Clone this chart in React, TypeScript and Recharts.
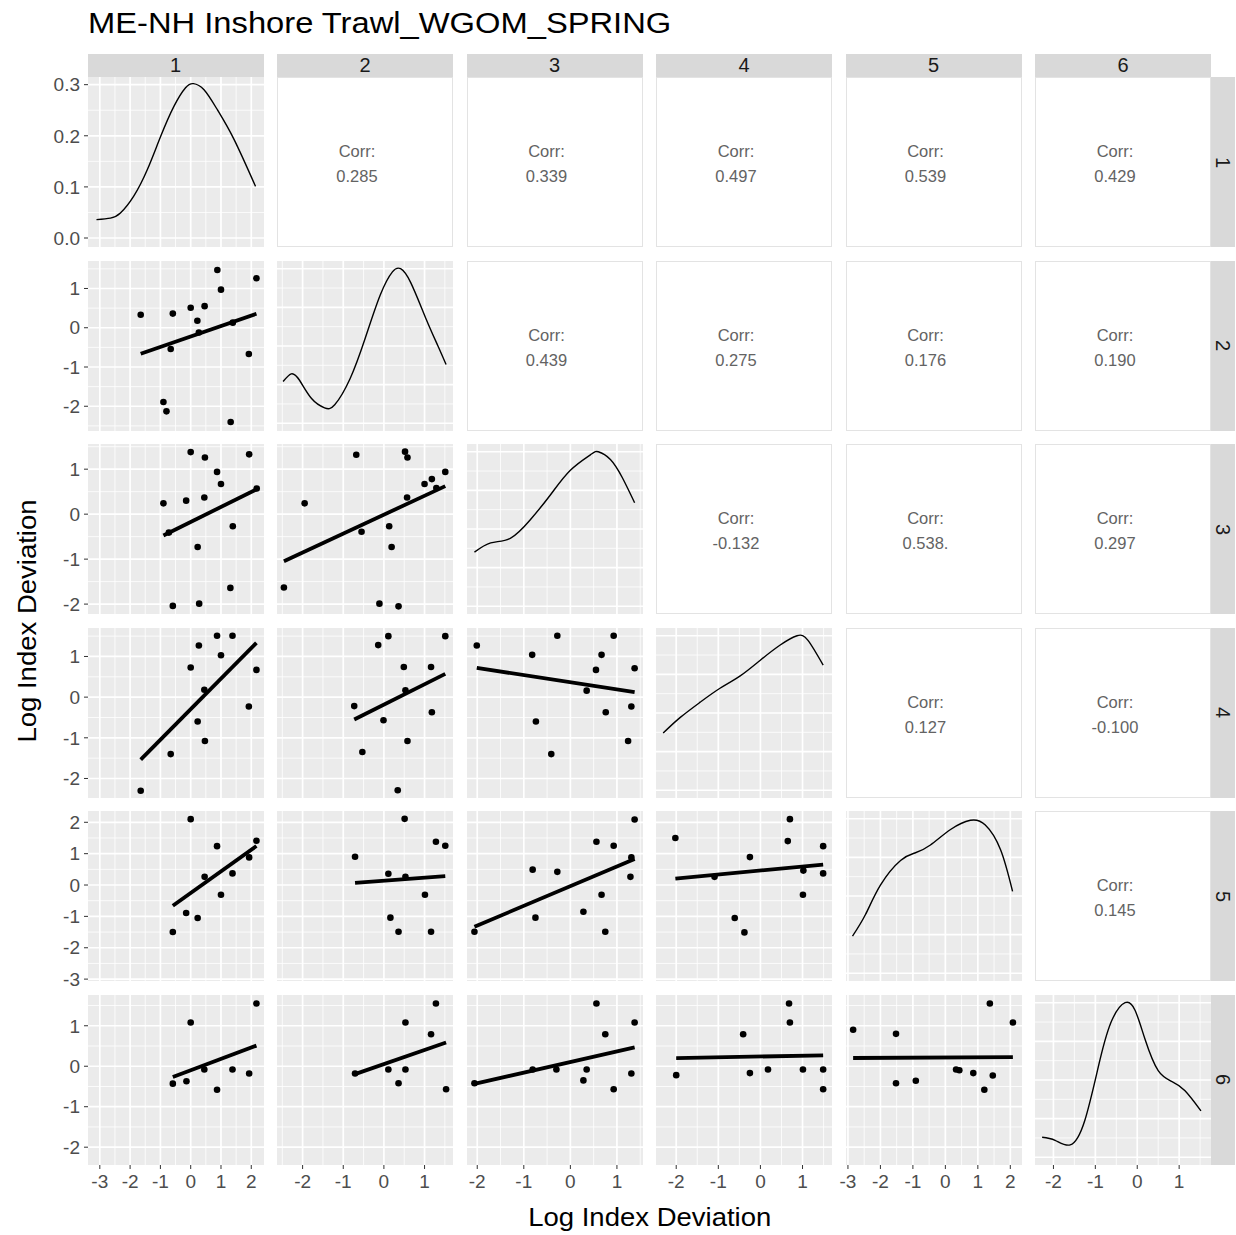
import React from 'react';
import { ComposedChart, Scatter, Line, XAxis, YAxis, CartesianGrid, ReferenceLine } from 'recharts';

type Pt = [number, number];
type Lim = [number, number];

const title = 'ME-NH Inshore Trawl_WGOM_SPRING';
const axisTitle = 'Log Index Deviation';
const varLabels = ['1', '2', '3', '4', '5', '6'];

// axis limits per index (data range already padded the way ggplot does it)
const varLims: Lim[] = [
  [-3.39, 2.42],
  [-2.63, 1.7],
  [-2.22, 1.56],
  [-2.48, 1.7],
  [-3.06, 2.36],
  [-2.44, 1.76],
];
const varBreaks = [
  [-3, -2, -1, 0, 1, 2],
  [-2, -1, 0, 1],
  [-2, -1, 0, 1],
  [-2, -1, 0, 1],
  [-3, -2, -1, 0, 1, 2],
  [-2, -1, 0, 1],
];

// upper triangle: correlation labels, row by row
const corrRow1 = ['0.285', '0.339', '0.497', '0.539', '0.429'];
const corrRow2 = ['0.439', '0.275', '0.176', '0.190'];
const corrRow3 = ['-0.132', '0.538.', '0.297'];
const corrRow4 = ['0.127', '-0.100'];
const corrRow5 = ['0.145'];
const corrRows = [corrRow1, corrRow2, corrRow3, corrRow4, corrRow5];

// lower triangle: [x = column index, y = row index]
const pts21: Pt[] = [[0.88, 1.47], [2.17, 1.26], [1.0, 0.97], [0.0, 0.51], [0.46, 0.55], [-1.65, 0.33], [-0.59, 0.36], [0.22, 0.18], [1.39, 0.13], [0.27, -0.12], [-0.66, -0.54], [1.92, -0.67], [-0.9, -1.89], [-0.8, -2.13], [1.32, -2.4]];
const pts31: Pt[] = [[0.0, 1.38], [0.47, 1.26], [1.93, 1.33], [0.87, 0.94], [1.0, 0.67], [-0.9, 0.24], [-0.15, 0.3], [0.45, 0.37], [2.18, 0.57], [1.39, -0.27], [-0.72, -0.41], [0.23, -0.73], [1.31, -1.64], [-0.59, -2.04], [0.28, -1.99]];
const pts41: Pt[] = [[0.87, 1.51], [1.38, 1.51], [0.27, 1.27], [1.0, 1.03], [0.0, 0.73], [2.17, 0.67], [0.45, 0.18], [1.92, -0.23], [0.23, -0.6], [0.47, -1.08], [-0.66, -1.4], [-1.65, -2.3]];
const pts51: Pt[] = [[0.0, 2.1], [2.17, 1.41], [0.87, 1.24], [1.93, 0.88], [1.38, 0.37], [0.46, 0.26], [1.0, -0.31], [-0.15, -0.89], [0.23, -1.05], [-0.59, -1.5]];
const pts61: Pt[] = [[2.17, 1.55], [0.0, 1.08], [0.45, -0.08], [1.38, -0.08], [1.93, -0.18], [-0.14, -0.37], [-0.59, -0.43], [0.87, -0.58]];
const pts32: Pt[] = [[-0.68, 1.32], [0.52, 1.39], [0.58, 1.26], [1.51, 0.94], [1.18, 0.78], [1.0, 0.67], [1.29, 0.58], [-1.95, 0.24], [0.57, 0.37], [0.13, -0.27], [-0.55, -0.39], [0.19, -0.73], [-2.46, -1.63], [-0.11, -1.99], [0.36, -2.05]];
const pts42: Pt[] = [[-0.14, 1.28], [0.11, 1.5], [0.49, 0.74], [0.53, 0.17], [0.58, -1.08], [1.16, 0.74], [1.18, -0.37], [1.51, 1.5], [-0.73, -0.22], [-0.53, -1.35], [-0.01, -0.57], [0.34, -2.29]];
const pts52: Pt[] = [[-0.71, 0.9], [0.11, 0.36], [0.53, 0.26], [0.16, -1.04], [0.36, -1.49], [0.51, 2.11], [1.01, -0.31], [1.16, -1.49], [1.28, 1.38], [1.51, 1.25]];
const pts62: Pt[] = [[-0.71, -0.18], [0.11, -0.08], [0.36, -0.42], [0.53, -0.08], [0.53, 1.08], [1.16, 0.79], [1.28, 1.55], [1.53, -0.57]];
const pts43: Pt[] = [[-2.01, 1.27], [-0.28, 1.51], [0.93, 1.51], [-0.82, 1.04], [0.67, 1.04], [0.55, 0.67], [1.38, 0.71], [0.35, 0.16], [0.76, -0.37], [1.31, -0.23], [-0.74, -0.6], [1.24, -1.08], [-0.41, -1.4]];
const pts53: Pt[] = [[-2.06, -1.49], [-0.81, 0.49], [-0.75, -1.04], [-0.28, 0.42], [0.28, -0.85], [0.56, 1.38], [0.67, -0.31], [0.75, -1.49], [0.93, 1.25], [1.29, 0.26], [1.31, 0.88], [1.38, 2.09]];
const pts63: Pt[] = [[-2.06, -0.42], [-0.81, -0.08], [-0.3, -0.08], [0.28, -0.35], [0.35, -0.08], [0.56, 1.55], [0.75, 0.79], [0.93, -0.57], [1.31, -0.18], [1.38, 1.08]];
const pts54: Pt[] = [[-2.02, 1.5], [0.7, 2.1], [0.65, 1.4], [1.49, 1.24], [-0.25, 0.89], [-1.09, 0.26], [1.02, 0.46], [1.49, 0.37], [1.01, -0.31], [-0.61, -1.05], [-0.38, -1.51]];
const pts64: Pt[] = [[-2.0, -0.22], [-0.41, 0.79], [-0.25, -0.17], [0.18, -0.08], [0.68, 1.55], [0.7, 1.08], [1.01, -0.08], [1.49, -0.08], [1.49, -0.57]];
const pts65: Pt[] = [[-2.84, 0.9], [-1.52, 0.8], [1.37, 1.55], [2.08, 1.08], [-1.52, -0.42], [-0.91, -0.36], [0.33, -0.08], [0.43, -0.1], [0.86, -0.17], [1.46, -0.23], [1.2, -0.58]];

const scatterPanels: Record<string, Pt[]> = {
  '1-0': pts21, '2-0': pts31, '3-0': pts41, '4-0': pts51, '5-0': pts61,
  '2-1': pts32, '3-1': pts42, '4-1': pts52, '5-1': pts62,
  '3-2': pts43, '4-2': pts53, '5-2': pts63,
  '4-3': pts54, '5-3': pts64,
  '5-4': pts65,
};

// diagonal densities (index 1 in density units, the others scaled to their peak)
const dens1X = [-3.11, -2.65, -2.32, -1.88, -1.43, -0.99, -0.55, -0.17, 0.09, 0.44, 0.88, 1.43, 2.14];
const dens1Y = [0.036, 0.039, 0.049, 0.082, 0.134, 0.199, 0.258, 0.294, 0.302, 0.29, 0.251, 0.193, 0.101];
const dens2X = [-2.48, -2.28, -2.08, -1.78, -1.46, -1.21, -0.83, -0.46, -0.09, 0.21, 0.41, 0.66, 1.03, 1.33, 1.53];
const dens2Y = [0.27, 0.32, 0.28, 0.16, 0.1, 0.12, 0.29, 0.55, 0.83, 0.98, 1.0, 0.91, 0.68, 0.5, 0.38];
const dens3X = [-2.06, -1.71, -1.29, -0.86, -0.43, 0.0, 0.43, 0.6, 0.86, 1.12, 1.38];
const dens3Y = [0.35, 0.41, 0.44, 0.56, 0.72, 0.88, 0.98, 1.0, 0.95, 0.83, 0.67];
const dens4X = [-2.31, -1.91, -1.43, -0.96, -0.48, -0.01, 0.47, 0.87, 1.13, 1.49];
const dens4Y = [0.37, 0.47, 0.57, 0.66, 0.74, 0.84, 0.94, 1.0, 0.97, 0.81];
const dens5X = [-2.86, -2.46, -2.0, -1.38, -0.92, -0.46, 0.16, 0.77, 1.23, 1.7, 2.07];
const dens5Y = [0.24, 0.38, 0.57, 0.73, 0.78, 0.83, 0.93, 0.99, 0.96, 0.8, 0.53];
const dens6X = [-2.27, -1.96, -1.6, -1.25, -0.89, -0.6, -0.29, -0.05, 0.19, 0.5, 0.83, 1.14, 1.52];
const dens6Y = [0.13, 0.11, 0.08, 0.24, 0.63, 0.89, 1.0, 0.95, 0.76, 0.56, 0.49, 0.43, 0.3];
const densX = [dens1X, dens2X, dens3X, dens4X, dens5X, dens6X];
const densY = [dens1Y, dens2Y, dens3Y, dens4Y, dens5Y, dens6Y];

const dens1Lim: Lim = [-0.0176, 0.315];
const dens1Breaks = [0, 0.1, 0.2, 0.3];
const scaledLim: Lim = [-0.05, 1.05];
const scaledBreaks = [0, 0.25, 0.5, 0.75, 1];

const FONT = '"Liberation Sans", Arial, sans-serif';
const PW = 176;
const PH = 170;
const STEP_X = 189.5;
const STEP_Y = 183.5;
const LEFT = 87.5;
const TOP = 77.3;
const YAXIS_W = 50;
const XAXIS_H = 36;

function minorOf(ticks: number[], lim: Lim) {
  const step = ticks[1] - ticks[0];
  const out: number[] = [];
  for (let v = ticks[0] - step / 2; v < lim[1]; v += step) {
    if (v > lim[0]) out.push(v);
  }
  return out;
}

function lmSegment(pts: Pt[]) {
  const n = pts.length;
  const mx = pts.reduce((s, p) => s + p[0], 0) / n;
  const my = pts.reduce((s, p) => s + p[1], 0) / n;
  let sxy = 0;
  let sxx = 0;
  pts.forEach(([x, y]) => {
    sxy += (x - mx) * (y - my);
    sxx += (x - mx) * (x - mx);
  });
  const b = sxy / sxx;
  const a = my - b * mx;
  const xs = pts.map((p) => p[0]);
  const x0 = Math.min(...xs);
  const x1 = Math.max(...xs);
  return [{ x: x0, y: a + b * x0 }, { x: x1, y: a + b * x1 }];
}

const Dot = (p: any) => <circle cx={p.cx} cy={p.cy} r={3.3} fill="#000" />;

function PanelFrame(props: {
  r: number;
  c: number;
  xLim: Lim;
  xTicks: number[];
  yLim: Lim;
  yTicks: number[];
  yFmt?: (v: number) => string;
  children: React.ReactNode;
}) {
  const { r, c, xLim, xTicks, yLim, yTicks, yFmt, children } = props;
  const showY = c === 0;
  const showX = r === 5;
  const w = PW + (showY ? YAXIS_W : 0);
  const h = PH + (showX ? XAXIS_H : 0);
  const tickStyle = { fill: '#4D4D4D', fontSize: 19, fontFamily: FONT };
  return (
    <div style={{ position: 'absolute', left: LEFT + c * STEP_X - (showY ? YAXIS_W : 0), top: TOP + r * STEP_Y, width: w, height: h }}>
      <ComposedChart width={w} height={h} margin={{ top: 0, right: 0, bottom: 0, left: 0 }}>
        <CartesianGrid
          fill="#EBEBEB"
          stroke="#FFFFFF"
          strokeWidth={0.8}
          verticalValues={minorOf(xTicks, xLim)}
          horizontalValues={minorOf(yTicks, yLim)}
        />
        <CartesianGrid stroke="#FFFFFF" strokeWidth={1.7} verticalValues={xTicks} horizontalValues={yTicks} />
        <XAxis
          type="number"
          dataKey="x"
          domain={xLim}
          ticks={xTicks}
          interval={0}
          allowDataOverflow
          hide={!showX}
          height={XAXIS_H}
          axisLine={false}
          tickSize={4}
          tickMargin={6}
          tickLine={{ stroke: '#333333' }}
          tick={tickStyle}
        />
        <YAxis
          type="number"
          dataKey="y"
          domain={yLim}
          ticks={yTicks}
          interval={0}
          allowDataOverflow
          hide={!showY}
          width={YAXIS_W}
          axisLine={false}
          tickSize={4}
          tickMargin={4}
          tickLine={{ stroke: '#333333' }}
          tick={tickStyle}
          tickFormatter={yFmt}
        />
        {children}
      </ComposedChart>
    </div>
  );
}

function ScatterPanel({ r, c }: { r: number; c: number }) {
  const pts = scatterPanels[`${r}-${c}`];
  const data = pts.map(([x, y]) => ({ x, y }));
  return (
    <PanelFrame r={r} c={c} xLim={varLims[c]} xTicks={varBreaks[c]} yLim={varLims[r]} yTicks={varBreaks[r]}>
      <Scatter data={data} shape={Dot} isAnimationActive={false} />
      <ReferenceLine segment={lmSegment(pts)} stroke="#000" strokeWidth={3.8} ifOverflow="visible" />
    </PanelFrame>
  );
}

function DensityPanel({ i }: { i: number }) {
  const data = densX[i].map((x, k) => ({ x, y: densY[i][k] }));
  const first = i === 0;
  return (
    <PanelFrame
      r={i}
      c={i}
      xLim={varLims[i]}
      xTicks={varBreaks[i]}
      yLim={first ? dens1Lim : scaledLim}
      yTicks={first ? dens1Breaks : scaledBreaks}
      yFmt={(v: number) => v.toFixed(1)}
    >
      <Line data={data} dataKey="y" type="natural" stroke="#000" strokeWidth={1.4} dot={false} isAnimationActive={false} />
    </PanelFrame>
  );
}

function CorrPanel({ r, c }: { r: number; c: number }) {
  const value = corrRows[r][c - r - 1];
  return (
    <div
      style={{
        position: 'absolute',
        left: LEFT + c * STEP_X,
        top: TOP + r * STEP_Y,
        width: PW,
        height: PH,
        boxSizing: 'border-box',
        border: '1px solid #E3E3E3',
        background: '#FFFFFF',
        color: '#636363',
        fontFamily: FONT,
        fontSize: 16.5,
      }}
    >
      <div style={{ position: 'absolute', left: 0, width: PW - 18, top: 63, textAlign: 'center', lineHeight: '20px' }}>
        Corr:
        <br />
        <span style={{ lineHeight: '30px' }}>{value}</span>
      </div>
    </div>
  );
}

export default function App() {
  const cells: React.ReactNode[] = [];
  for (let r = 0; r < 6; r++) {
    for (let c = 0; c < 6; c++) {
      if (r === c) cells.push(<DensityPanel key={`${r}-${c}`} i={r} />);
      else if (r > c) cells.push(<ScatterPanel key={`${r}-${c}`} r={r} c={c} />);
      else cells.push(<CorrPanel key={`${r}-${c}`} r={r} c={c} />);
    }
  }
  return (
    <div style={{ position: 'absolute', left: 0, top: 0, width: 1236, height: 1235, background: '#fff', fontFamily: FONT, overflow: 'hidden' }}>
      <style>{'.recharts-surface{overflow:visible}'}</style>
      <div
        style={{
          position: 'absolute',
          left: 88,
          top: 5,
          fontSize: 30,
          lineHeight: '36px',
          color: '#000',
          whiteSpace: 'nowrap',
          transform: 'scaleX(1.09)',
          transformOrigin: 'left center',
        }}
      >
        {title}
      </div>
      {varLabels.map((lab, i) => (
        <div
          key={`top-${lab}`}
          style={{
            position: 'absolute',
            left: LEFT + i * STEP_X,
            top: 54,
            width: PW,
            height: TOP - 54,
            background: '#D9D9D9',
            color: '#1A1A1A',
            fontSize: 20,
            textAlign: 'center',
            lineHeight: `${TOP - 54}px`,
          }}
        >
          {lab}
        </div>
      ))}
      {varLabels.map((lab, i) => (
        <div
          key={`right-${lab}`}
          style={{
            position: 'absolute',
            left: LEFT + 5 * STEP_X + PW,
            top: TOP + i * STEP_Y,
            width: 24,
            height: PH,
            background: '#D9D9D9',
            color: '#1A1A1A',
            fontSize: 20,
            display: 'flex',
            alignItems: 'center',
            justifyContent: 'center',
          }}
        >
          <span style={{ transform: 'rotate(90deg)', display: 'inline-block' }}>{lab}</span>
        </div>
      ))}
      {cells}
      <div
        style={{
          position: 'absolute',
          left: LEFT,
          width: 5 * STEP_X + PW,
          top: 1202,
          textAlign: 'center',
          fontSize: 25,
          lineHeight: '30px',
          color: '#000',
          transform: 'scaleX(1.1)',
        }}
      >
        {axisTitle}
      </div>
      <div
        style={{
          position: 'absolute',
          left: 27 - 300,
          top: 621 - 15,
          width: 600,
          textAlign: 'center',
          fontSize: 25,
          lineHeight: '30px',
          color: '#000',
          transform: 'rotate(-90deg) scaleX(1.1)',
        }}
      >
        {axisTitle}
      </div>
    </div>
  );
}
